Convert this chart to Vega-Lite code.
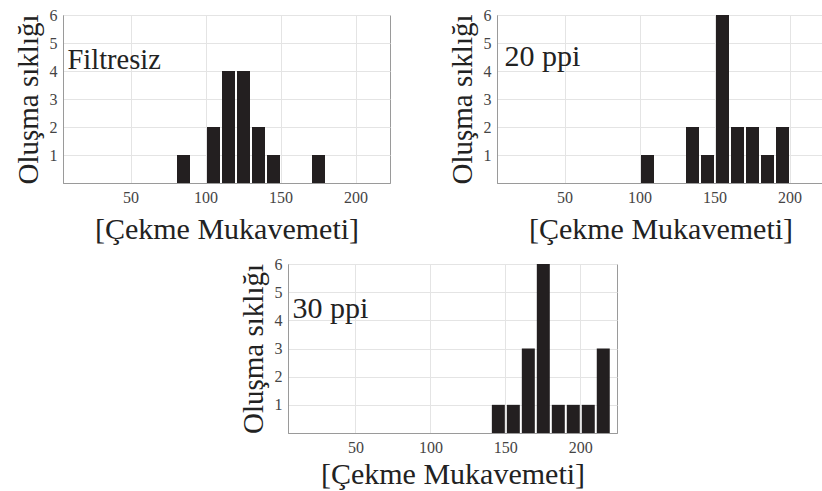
{
  "$schema": "https://vega.github.io/schema/vega-lite/v6.json",
  "padding": {"left": 13, "top": 6, "right": 0, "bottom": 0},
  "config": {
    "background": "white",
    "view": {"stroke": "#9a9a9a", "strokeWidth": 1},
    "font": "Liberation Serif",
    "axis": {
      "labelFont": "Liberation Serif",
      "labelFontSize": 16,
      "labelColor": "#444",
      "labelOverlap": false,
      "format": "d",
      "titleFont": "Liberation Serif",
      "titleFontSize": 29,
      "titleFontWeight": "normal",
      "titleColor": "#222",
      "gridColor": "#e4e4e4",
      "domainColor": "#9a9a9a",
      "ticks": false
    },
    "axisX": {"labelPadding": 6, "titlePadding": 9, "titleFontSize": 30, "tickCount": 10},
    "axisY": {"labelPadding": 6, "titlePadding": 6, "tickCount": 10},
    "concat": {"spacing": 20}
  },
  "vconcat": [
    {
      "hconcat": [
        {
          "width": 327, "height": 168,
          "layer": [
            {
              "data": {"values": [
                {"lo": 80, "hi": 90, "n": 1},
                {"lo": 100, "hi": 110, "n": 2},
                {"lo": 110, "hi": 120, "n": 4},
                {"lo": 120, "hi": 130, "n": 4},
                {"lo": 130, "hi": 140, "n": 2},
                {"lo": 140, "hi": 150, "n": 1},
                {"lo": 170, "hi": 180, "n": 1}
              ]},
              "mark": {"type": "bar", "color": "#231f20", "binSpacing": 2},
              "encoding": {
                "x": {"field": "lo", "type": "quantitative", "bin": "binned", "scale": {"domain": [5, 223], "nice": false, "zero": false}, "axis": {"values": [50, 100, 150, 200], "tickCount": 10, "format": "d", "title": "[Çekme Mukavemeti]", "grid": true}},
                "x2": {"field": "hi"},
                "y": {"field": "n", "type": "quantitative", "scale": {"domain": [0, 6], "nice": false}, "axis": {"values": [1, 2, 3, 4, 5, 6], "tickCount": 10, "format": "d", "title": "Oluşma sıklığı"}}
              }
            },
            {
              "data": {"values": [{"x": 8, "y": 4.07, "label": "Filtresiz"}]},
              "mark": {"type": "text", "align": "left", "baseline": "alphabetic", "font": "Liberation Serif", "fontSize": 28.5, "color": "#222"},
              "encoding": {
                "x": {"field": "x", "type": "quantitative", "axis": {"title": "[Çekme Mukavemeti]", "format": "d"}},
                "y": {"field": "y", "type": "quantitative", "axis": {"title": "Oluşma sıklığı", "format": "d"}},
                "text": {"field": "label"}
              }
            }
          ]
        },
        {
          "width": 327, "height": 168,
          "layer": [
            {
              "data": {"values": [
                {"lo": 100, "hi": 110, "n": 1},
                {"lo": 130, "hi": 140, "n": 2},
                {"lo": 140, "hi": 150, "n": 1},
                {"lo": 150, "hi": 160, "n": 6},
                {"lo": 160, "hi": 170, "n": 2},
                {"lo": 170, "hi": 180, "n": 2},
                {"lo": 180, "hi": 190, "n": 1},
                {"lo": 190, "hi": 200, "n": 2}
              ]},
              "mark": {"type": "bar", "color": "#231f20", "binSpacing": 2},
              "encoding": {
                "x": {"field": "lo", "type": "quantitative", "bin": "binned", "scale": {"domain": [5, 223], "nice": false, "zero": false}, "axis": {"values": [50, 100, 150, 200], "tickCount": 10, "format": "d", "title": "[Çekme Mukavemeti]", "grid": true}},
                "x2": {"field": "hi"},
                "y": {"field": "n", "type": "quantitative", "scale": {"domain": [0, 6], "nice": false}, "axis": {"values": [1, 2, 3, 4, 5, 6], "tickCount": 10, "format": "d", "title": "Oluşma sıklığı"}}
              }
            },
            {
              "data": {"values": [{"x": 10, "y": 4.18, "label": "20 ppi"}]},
              "mark": {"type": "text", "align": "left", "baseline": "alphabetic", "font": "Liberation Serif", "fontSize": 30, "color": "#222"},
              "encoding": {
                "x": {"field": "x", "type": "quantitative", "axis": {"title": "[Çekme Mukavemeti]", "format": "d"}},
                "y": {"field": "y", "type": "quantitative", "axis": {"title": "Oluşma sıklığı", "format": "d"}},
                "text": {"field": "label"}
              }
            }
          ]
        }
      ],
      "spacing": 56
    },
    {
      "hconcat": [
        {
          "width": 150, "height": 1,
          "view": {"stroke": null},
          "data": {"values": [{"a": 0}]},
          "mark": {"type": "point", "opacity": 0},
          "encoding": {}
        },
        {
          "width": 329, "height": 169,
          "layer": [
            {
              "data": {"values": [
                {"lo": 140, "hi": 150, "n": 1},
                {"lo": 150, "hi": 160, "n": 1},
                {"lo": 160, "hi": 170, "n": 3},
                {"lo": 170, "hi": 180, "n": 6},
                {"lo": 180, "hi": 190, "n": 1},
                {"lo": 190, "hi": 200, "n": 1},
                {"lo": 200, "hi": 210, "n": 1},
                {"lo": 210, "hi": 220, "n": 3}
              ]},
              "mark": {"type": "bar", "color": "#231f20", "binSpacing": 2},
              "encoding": {
                "x": {"field": "lo", "type": "quantitative", "bin": "binned", "scale": {"domain": [5, 224.5], "nice": false, "zero": false}, "axis": {"values": [50, 100, 150, 200], "tickCount": 10, "format": "d", "title": "[Çekme Mukavemeti]", "titlePadding": 4, "grid": true}},
                "x2": {"field": "hi"},
                "y": {"field": "n", "type": "quantitative", "scale": {"domain": [0, 6], "nice": false}, "axis": {"values": [1, 2, 3, 4, 5, 6], "tickCount": 10, "format": "d", "title": "Oluşma sıklığı"}}
              }
            },
            {
              "data": {"values": [{"x": 8, "y": 4.1, "label": "30 ppi"}]},
              "mark": {"type": "text", "align": "left", "baseline": "alphabetic", "font": "Liberation Serif", "fontSize": 30, "color": "#222"},
              "encoding": {
                "x": {"field": "x", "type": "quantitative", "axis": {"title": "[Çekme Mukavemeti]", "format": "d", "titlePadding": 4}},
                "y": {"field": "y", "type": "quantitative", "axis": {"title": "Oluşma sıklığı", "format": "d"}},
                "text": {"field": "label"}
              }
            }
          ]
        }
      ],
      "align": "none",
      "spacing": 25
    }
  ],
  "spacing": 10
}
